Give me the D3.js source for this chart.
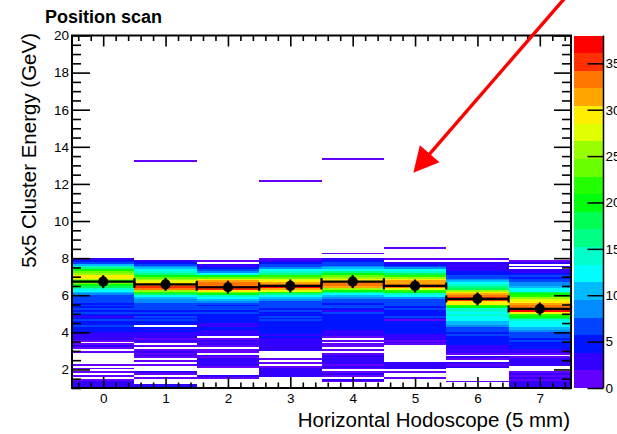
<!DOCTYPE html>
<html>
<head>
<meta charset="utf-8">
<script src="https://cdn.jsdelivr.net/npm/d3@7"></script>
<style>
  body { margin: 0; background: #fff; }
  svg { display: block; font-family: "Liberation Sans", Arial, Helvetica, sans-serif; }
</style>
</head>
<body>
<svg id="chart" width="617" height="434"></svg>
<script>
// Hodoscope channels (x bins of the 2D histogram)
const channels = [0, 1, 2, 3, 4, 5, 6, 7];

// Energy binning: 0.1 GeV bins, first bin starts at 1.0 GeV
const energyStart = 1.0;
const energyStep = 0.1;

// Entries per energy bin (1.0 GeV .. 8.6 GeV), one array per channel
const counts0 = [3,2,3,2,1,0,1,0,1,0, 1,0,1,0,0,0,0,0,0,1, 0,1,2,1,0,1,2,3,2,3, 5,4,5,6,4,5,6,5,3,5,
                 6,5,6,5,6,5,6,7,6,7, 8,10,13,15,18,20,23,22,25,29, 29,26,23,20,16,14,10,6,5,3, 0,0,0,0,0,0];
const counts1 = [4,2,0,0,0,1,0,1,2,0, 0,0,1,0,1,0,1,2,1,2, 1,0,1,0,1,2,1,2,3,2, 4,3,4,0,5,4,6,5,6,5,
                 6,5,6,7,6,7,8,9,11,13, 18,21,26,33,36,34,30,28,25,23, 20,16,14,12,10,8,6,5,3,0, 0,0,0,0,0,0];
const counts2 = [0,0,0,0,0,1,2,0,0,0, 0,1,2,2,3,2,1,2,0,1, 1,0,1,2,1,2,1,0,2,3, 3,4,4,3,3,4,4,5,4,5,
                 6,5,6,6,5,6,8,10,12,15, 19,24,30,36,37,34,33,31,28,24, 20,12,9,7,5,2,2,0,1,0, 0,0,0,0,0,0];
const counts3 = [0,0,0,0,0,0,2,3,2,3, 2,1,0,1,0,1,0,0,0,0, 2,3,2,3,2,3,2,4,3,4, 4,5,5,4,5,5,6,5,6,5,
                 5,6,5,6,7,6,7,9,11,13, 16,21,27,32,37,34,31,29,27,24, 21,17,14,12,9,7,6,4,3,1, 0,0,0,0,0,0];
const counts4 = [0,0,0,1,2,0,1,2,1,0, 1,2,1,2,2,3,2,2,1,0, 1,0,1,1,0,1,0,1,3,3, 3,4,5,4,4,5,4,5,5,4,
                 6,2,5,6,6,5,6,7,8,10, 12,16,19,25,31,34,33,30,29,26, 23,19,16,13,11,9,7,6,5,2, 0,0,1,0,0,0];
const counts5 = [0,0,0,0,0,1,0,0,1,0, 2,3,2,3,0,0,0,0,0,0, 0,0,0,1,2,1,2,3,2,4, 4,5,4,5,4,5,1,5,6,5,
                 5,5,6,5,6,6,6,7,9,12, 14,19,22,27,34,33,32,31,29,26, 22,18,14,12,9,6,4,3,0,1, 0,0,0,0,0,1];
const counts6 = [0,0,0,1,0,0,0,0,0,0, 0,2,1,2,0,1,2,0,1,2, 3,2,3,4,4,5,4,5,6,5, 7,6,7,8,10,11,13,12,13,14,
                 13,14,15,19,22,29,30,36,35,33, 32,29,25,18,16,14,12,10,8,7, 6,5,4,3,3,2,3,2,0,1, 0,0,0,0,0,0];
const counts7 = [3,3,2,2,1,2,1,2,1,0, 0,0,3,2,3,2,1,0,1,2, 3,5,4,5,4,6,5,7,6,7, 8,10,11,13,12,13,15,18,20,22,
                 29,38,35,34,33,31,29,27,25,22, 20,18,13,12,10,9,8,6,7,5, 6,5,3,3,0,2,0,2,1,0, 0,0,0,0,0,0];
const channelCounts = [counts0, counts1, counts2, counts3, counts4, counts5, counts6, counts7];

// Isolated high-energy entries
const outlierChannel = [1, 3, 4];
const outlierEnergy = [13.2, 12.1, 13.3];
const outlierCount = [1, 1, 1];

// Profile: mean cluster energy per channel and its error
const profileMean = [6.73, 6.59, 6.43, 6.50, 6.73, 6.50, 5.80, 5.26];
const profileError = [0.35, 0.35, 0.35, 0.35, 0.35, 0.35, 0.35, 0.35];

// Axis ticks
const xTicks = [0, 1, 2, 3, 4, 5, 6, 7];
const yTicks = [2, 4, 6, 8, 10, 12, 14, 16, 18, 20];
const zTicks = [0, 5, 10, 15, 20, 25, 30, 35];

// Annotation arrow (data coordinates)
const arrowFrom = [7.5, 22.4];
const arrowTo = [4.972, 12.605];

// ---- layout ----
const frame = { left: 72, right: 571, top: 35.5, bottom: 388 };
const bar = { left: 573.5, right: 603.5 };

const svg = d3.select("#chart");

const x = d3.scaleLinear().domain([-0.5, 7.5]).range([frame.left, frame.right]);
const y = d3.scaleLinear().domain([1, 20]).range([frame.bottom, frame.top]);

// Build cell list of the 2D histogram
const cells = [];
channels.forEach((ch, c) => {
  channelCounts[c].forEach((n, i) => {
    if (n > 0) cells.push({ ch, lo: energyStart + i * energyStep, n });
  });
});
outlierChannel.forEach((ch, k) => cells.push({ ch, lo: outlierEnergy[k], n: outlierCount[k] }));

const zMax = d3.max(cells, d => d.n);
const z = d3.scaleLinear().domain([0, zMax]).range([frame.bottom, frame.top]);

// ROOT "pretty" palette: 50 HLS hues from violet to red, sampled at 20 contour levels
const nLevels = 20;
function levelColor(k) {
  const idx = Math.floor((k + 0.99) * 50 / nLevels);
  if (idx >= 49) return "#ff0000";
  const hue = 280 - (idx + 1) * 280 / 50;
  return d3.hsl(hue, 1, 0.5).formatHex();
}
function cellColor(n) {
  const k = Math.min(nLevels - 1, Math.floor(0.01 + n * nLevels / zMax));
  return levelColor(k);
}

// Cells
svg.append("g").attr("shape-rendering", "crispEdges")
  .selectAll("rect").data(cells).join("rect")
  .attr("x", d => x(d.ch - 0.5))
  .attr("width", d => x(d.ch + 0.5) - x(d.ch - 0.5))
  .attr("y", d => y(d.lo + energyStep))
  .attr("height", d => y(d.lo) - y(d.lo + energyStep))
  .attr("fill", d => cellColor(d.n));

// Profile
const prof = svg.append("g").attr("stroke", "#000").attr("stroke-width", 2.2);
channels.forEach((ch, c) => {
  const ym = y(profileMean[c]);
  prof.append("line").attr("x1", x(ch - 0.5)).attr("x2", x(ch + 0.5)).attr("y1", ym).attr("y2", ym);
  [ch - 0.5, ch + 0.5].forEach(e => {
    prof.append("line").attr("x1", x(e)).attr("x2", x(e)).attr("y1", ym - 3.5).attr("y2", ym + 3.5);
  });
  prof.append("line").attr("x1", x(ch)).attr("x2", x(ch))
    .attr("y1", y(profileMean[c] - profileError[c])).attr("y2", y(profileMean[c] + profileError[c]));
});
svg.append("g").selectAll("circle").data(channels).join("circle")
  .attr("cx", d => x(d)).attr("cy", (d, i) => y(profileMean[i])).attr("r", 5.1).attr("fill", "#000");

// Palette bar
const levels = d3.range(nLevels);
svg.append("g").attr("shape-rendering", "crispEdges")
  .selectAll("rect").data(levels).join("rect")
  .attr("x", bar.left).attr("width", bar.right - bar.left)
  .attr("y", k => z((k + 1) * zMax / nLevels))
  .attr("height", k => z(k * zMax / nLevels) - z((k + 1) * zMax / nLevels))
  .attr("fill", k => levelColor(k));
svg.append("line").attr("x1", bar.right).attr("x2", bar.right)
  .attr("y1", frame.top).attr("y2", frame.bottom).attr("stroke", "#000").attr("stroke-width", 1.5);

function styleTicks(g, w) {
  g.select(".domain").remove();
  g.selectAll(".tick line").attr("stroke", "#000").attr("stroke-width", w);
}
svg.append("g").attr("transform", `translate(${bar.right},0)`)
  .call(d3.axisLeft(z).tickValues(zTicks).tickSize(16).tickFormat(""))
  .call(g => styleTicks(g, 1.5));
svg.append("g").attr("transform", `translate(${bar.right},0)`)
  .call(d3.axisRight(z).tickValues(zTicks).tickSize(0).tickPadding(2))
  .call(g => { g.select(".domain").remove(); g.selectAll("text").attr("font-size", 13.5).attr("fill", "#000").attr("font-family", null); });

// Axis ticks (inside the frame, on all four sides)
const yMinor = d3.range(1, 20.01, 0.5).filter(v => Math.abs(v % 2) > 1e-6);
const xMinor = d3.range(-0.4, 7.5, 0.2).filter(v => Math.abs(v - Math.round(v)) > 1e-6);

svg.append("g").attr("transform", `translate(${frame.left},0)`)
  .call(d3.axisRight(y).tickValues(yTicks).tickSize(18).tickFormat("")).call(g => styleTicks(g, 1.6));
svg.append("g").attr("transform", `translate(${frame.left},0)`)
  .call(d3.axisRight(y).tickValues(yMinor).tickSize(9).tickFormat("")).call(g => styleTicks(g, 1.6));
svg.append("g").attr("transform", `translate(${frame.right},0)`)
  .call(d3.axisLeft(y).tickValues(yTicks).tickSize(17).tickFormat("")).call(g => styleTicks(g, 1.6));
svg.append("g").attr("transform", `translate(${frame.right},0)`)
  .call(d3.axisLeft(y).tickValues(yMinor).tickSize(9).tickFormat("")).call(g => styleTicks(g, 1.6));
svg.append("g").attr("transform", `translate(0,${frame.bottom})`)
  .call(d3.axisTop(x).tickValues(xTicks).tickSize(11).tickFormat("")).call(g => styleTicks(g, 1.6));
svg.append("g").attr("transform", `translate(0,${frame.bottom})`)
  .call(d3.axisTop(x).tickValues(xMinor).tickSize(5.5).tickFormat("")).call(g => styleTicks(g, 1.6));
svg.append("g").attr("transform", `translate(0,${frame.top})`)
  .call(d3.axisBottom(x).tickValues(xTicks).tickSize(11).tickFormat("")).call(g => styleTicks(g, 1.6));
svg.append("g").attr("transform", `translate(0,${frame.top})`)
  .call(d3.axisBottom(x).tickValues(xMinor).tickSize(5.5).tickFormat("")).call(g => styleTicks(g, 1.6));

// Tick labels
svg.append("g").attr("transform", `translate(${frame.left},0)`)
  .call(d3.axisLeft(y).tickValues(yTicks).tickSize(0).tickPadding(3))
  .call(g => { g.select(".domain").remove(); g.selectAll("text").attr("font-size", 13.5).attr("fill", "#000").attr("font-family", null); });
svg.append("g").attr("transform", `translate(0,${frame.bottom})`)
  .call(d3.axisBottom(x).tickValues(xTicks).tickSize(0).tickPadding(5))
  .call(g => { g.select(".domain").remove(); g.selectAll("text").attr("font-size", 13.5).attr("fill", "#000").attr("font-family", null); });

// Frame
svg.append("rect").attr("x", frame.left).attr("y", frame.top)
  .attr("width", frame.right - frame.left).attr("height", frame.bottom - frame.top)
  .attr("fill", "none").attr("stroke", "#000").attr("stroke-width", 2);

// Titles
svg.append("text").attr("x", 45).attr("y", 23).attr("font-size", 18).attr("font-weight", "bold")
  .text("Position scan");
svg.append("text").attr("x", 570).attr("y", 427).attr("text-anchor", "end").attr("font-size", 20.5)
  .text("Horizontal Hodoscope (5 mm)");
svg.append("text").attr("transform", "translate(35.5,33) rotate(-90)").attr("text-anchor", "end")
  .attr("font-size", 20.5).text("5x5 Cluster Energy (GeV)");

// Arrow annotation
const p0 = [x(arrowFrom[0]), y(arrowFrom[1])];
const p1 = [x(arrowTo[0]), y(arrowTo[1])];
const len = Math.hypot(p1[0] - p0[0], p1[1] - p0[1]);
const u = [(p1[0] - p0[0]) / len, (p1[1] - p0[1]) / len];
const nrm = [-u[1], u[0]];
const headL = 25, headW = 13;
const base = [p1[0] - u[0] * headL, p1[1] - u[1] * headL];
svg.append("line").attr("x1", p0[0]).attr("y1", p0[1]).attr("x2", base[0] + u[0] * 2).attr("y2", base[1] + u[1] * 2)
  .attr("stroke", "#ff0000").attr("stroke-width", 3.4);
svg.append("path")
  .attr("d", d3.line()([p1,
    [base[0] + nrm[0] * headW, base[1] + nrm[1] * headW],
    [base[0] - nrm[0] * headW, base[1] - nrm[1] * headW]]) + "Z")
  .attr("fill", "#ff0000");
</script>
</body>
</html>
